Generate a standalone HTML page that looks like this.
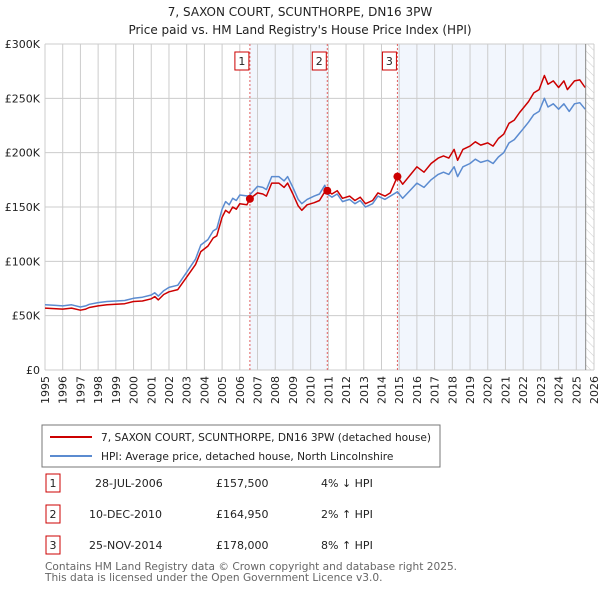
<!DOCTYPE html>
<html><head><meta charset="utf-8"><style>
body{margin:0;background:#fff;width:600px;height:590px;overflow:hidden;font-family:"Liberation Sans","DejaVu Sans",sans-serif}
svg text{font-family:"DejaVu Sans","Liberation Sans",sans-serif}
</style></head><body>
<svg id="chart" width="600" height="590">
<defs><pattern id="hatch" width="6" height="6" patternUnits="userSpaceOnUse" patternTransform="rotate(-45)"><line x1="0" y1="0" x2="0" y2="6" stroke="#ccc" stroke-width="1"/></pattern></defs>
<text x="300" y="16" text-anchor="middle" font-size="12" fill="#222">7, SAXON COURT, SCUNTHORPE, DN16 3PW</text>
<text x="300" y="34" text-anchor="middle" font-size="12" fill="#222">Price paid vs. HM Land Registry's House Price Index (HPI)</text>
<g id="plot"></g>
<rect x="42" y="425" width="398" height="42" fill="#fff" stroke="#777"/>
<line x1="50" y1="437" x2="92" y2="437" stroke="#cc0000" stroke-width="2"/>
<text x="101" y="441" font-size="10.6" fill="#222">7, SAXON COURT, SCUNTHORPE, DN16 3PW (detached house)</text>
<line x1="50" y1="456" x2="92" y2="456" stroke="#5b8bd0" stroke-width="2"/>
<text x="101" y="460" font-size="10.6" fill="#222">HPI: Average price, detached house, North Lincolnshire</text>
<g font-size="11" fill="#222">
<rect x="46" y="474" width="14" height="18" fill="none" stroke="#cc0000"/><text x="53" y="487" text-anchor="middle">1</text>
<text x="95" y="487">28-JUL-2006</text><text x="216" y="487">£157,500</text><text x="321" y="487">4% ↓ HPI</text>
<rect x="46" y="505" width="14" height="18" fill="none" stroke="#cc0000"/><text x="53" y="518" text-anchor="middle">2</text>
<text x="89" y="518">10-DEC-2010</text><text x="216" y="518">£164,950</text><text x="321" y="518">2% ↑ HPI</text>
<rect x="46" y="536" width="14" height="18" fill="none" stroke="#cc0000"/><text x="53" y="549" text-anchor="middle">3</text>
<text x="89" y="549">25-NOV-2014</text><text x="216" y="549">£178,000</text><text x="321" y="549">8% ↑ HPI</text>
</g>
<text x="45" y="570" font-size="10.6" fill="#666">Contains HM Land Registry data © Crown copyright and database right 2025.</text>
<text x="45" y="581" font-size="10.6" fill="#666">This data is licensed under the Open Government Licence v3.0.</text>
</svg>
<script>
const hpiDates=[1995.0,1995.5,1996.0,1996.5,1997.0,1997.3,1997.5,1998.0,1998.5,1999.0,1999.5,2000.0,2000.5,2001.0,2001.2,2001.4,2001.7,2002.0,2002.5,2003.0,2003.5,2003.8,2004.2,2004.5,2004.7,2005.0,2005.2,2005.4,2005.6,2005.8,2006.0,2006.5,2007.0,2007.3,2007.5,2007.8,2008.2,2008.5,2008.7,2009.0,2009.3,2009.5,2009.8,2010.2,2010.5,2010.8,2010.95,2011.2,2011.5,2011.8,2012.2,2012.5,2012.8,2013.1,2013.5,2013.8,2014.2,2014.5,2014.9,2015.2,2015.6,2016.0,2016.4,2016.8,2017.2,2017.5,2017.8,2018.1,2018.3,2018.6,2019.0,2019.3,2019.6,2020.0,2020.3,2020.6,2020.9,2021.2,2021.5,2021.8,2022.0,2022.3,2022.6,2022.9,2023.2,2023.4,2023.7,2024.0,2024.3,2024.6,2024.9,2025.2,2025.5];
const hpiValues=[60,59.5,59,60,58,59,60.5,62,63,63.5,64,66,67,69,71,68,73,76,78,90,102,115,120,128,130,148,155,152,158,156,161,160,169,168,166,178,178,174,178,168,157,153,157,160,162,170,162,159,162,155,157,153,156,150,153,160,157,160,164,158,165,172,168,175,180,182,180,187,178,187,190,194,191,193,190,196,200,209,212,218,222,228,235,238,250,242,245,240,245,238,245,246,240];
const priceDates=[1995.0,1995.5,1996.0,1996.5,1997.0,1997.3,1997.5,1998.0,1998.5,1999.0,1999.5,2000.0,2000.5,2001.0,2001.2,2001.4,2001.7,2002.0,2002.5,2003.0,2003.5,2003.8,2004.2,2004.5,2004.7,2005.0,2005.2,2005.4,2005.6,2005.8,2006.0,2006.4,2006.57,2007.0,2007.3,2007.5,2007.8,2008.2,2008.5,2008.7,2009.0,2009.3,2009.5,2009.8,2010.2,2010.5,2010.8,2010.94,2011.2,2011.5,2011.8,2012.2,2012.5,2012.8,2013.1,2013.5,2013.8,2014.2,2014.5,2014.9,2015.2,2015.6,2016.0,2016.4,2016.8,2017.2,2017.5,2017.8,2018.1,2018.3,2018.6,2019.0,2019.3,2019.6,2020.0,2020.3,2020.6,2020.9,2021.2,2021.5,2021.8,2022.0,2022.3,2022.6,2022.9,2023.2,2023.4,2023.7,2024.0,2024.3,2024.5,2024.9,2025.2,2025.5];
const priceValues=[57,56.5,56,57,55,56,57.5,59,60,60.5,61,63,63.5,65.5,67.5,64.5,69.5,72,74,85.5,97,109,114,121.5,123.5,140.5,147,144.5,150,148,153,152,157.5,163,162,160,172,172,168,172,162,151,147,152,154,156,164,164.95,162,165,158,160,156,159,153,156,163,160,163,178,171,179,187,182,190,195,197,195,203,193,203,206,210,207,209,206,213,217,227,230,237,241,247,255,258,271,263,266,260,266,258,266,267,260];
const saleDates=[2006.57,2010.94,2014.9];
const saleValues=[157.5,164.95,178];
const saleLabels=["1","2","3"];
const yTicks=[0,50,100,150,200,250,300];
const yTickLabels=["£0","£50K","£100K","£150K","£200K","£250K","£300K"];
const xTicks=[];for(let y=1995;y<=2026;y++)xTicks.push(y);
const dataEnd=2025.53;

const L=45,R=594,T=44,B=370,X0=1995,X1=2026,YMAX=300;
const xs=v=>L+(v-X0)/(X1-X0)*(R-L);
const ys=v=>B-v/YMAX*(B-T);
const NS="http://www.w3.org/2000/svg";
const g=document.getElementById('plot');
function mk(tag,attrs,parent){const e=document.createElementNS(NS,tag);for(const k in attrs)e.setAttribute(k,attrs[k]);(parent||g).appendChild(e);return e;}
let e=mk('rect',{x:xs(saleDates[0]),y:T,width:xs(saleDates[1])-xs(saleDates[0]),height:B-T,fill:'#f2f6fd'});


e=mk('rect',{x:xs(saleDates[2]),y:T,width:xs(dataEnd)-xs(saleDates[2]),height:B-T,fill:'#f2f6fd'});


e=mk('rect',{x:xs(dataEnd),y:T,width:R-xs(dataEnd),height:B-T,fill:'url(#hatch)'});


xTicks.forEach(t=>{const l=mk('line',{x1:xs(t),x2:xs(t),y1:T,y2:B,stroke:'#ccc','stroke-width':1});


const tx=mk('text',{x:0,y:0,'font-size':11,fill:'#222','text-anchor':'end',transform:`translate(${xs(t)+4},${B+6}) rotate(-90)`});tx.textContent=t;

});
yTicks.forEach((t,i)=>{const l=mk('line',{x1:L,x2:R,y1:ys(t),y2:ys(t),stroke:'#ccc','stroke-width':1});


const tx=mk('text',{x:L-5,y:ys(t)+4,'font-size':11,fill:'#222','text-anchor':'end'});tx.textContent=yTickLabels[i];

});
e=mk('line',{x1:xs(dataEnd),x2:xs(dataEnd),y1:T,y2:B,stroke:'#888','stroke-width':1});


saleDates.forEach((d,i)=>{const l=mk('line',{x1:xs(d),x2:xs(d),y1:T,y2:B,stroke:'#e06060','stroke-width':1,'stroke-dasharray':'2,2'});


const r=mk('rect',{x:xs(d)-15,y:52,width:14,height:18,fill:'#fff',stroke:'#cc0000'});


const t=mk('text',{x:xs(d)-8,y:65,'font-size':11,fill:'#222','text-anchor':'middle'});t.textContent=saleLabels[i];

});
const path=(ds,vs)=>ds.map((d,i)=>(i?'L':'M')+xs(d).toFixed(1)+','+ys(vs[i]).toFixed(1)).join('');
e=mk('path',{d:path(hpiDates,hpiValues),fill:'none',stroke:'#5b8bd0','stroke-width':1.5,'stroke-linejoin':'round'});


e=mk('path',{d:path(priceDates,priceValues),fill:'none',stroke:'#cc0000','stroke-width':1.5,'stroke-linejoin':'round'});


saleDates.forEach((d,i)=>{const c=mk('circle',{cx:xs(d),cy:ys(saleValues[i]),r:4,fill:'#cc0000'});

});
</script>
</body></html>
